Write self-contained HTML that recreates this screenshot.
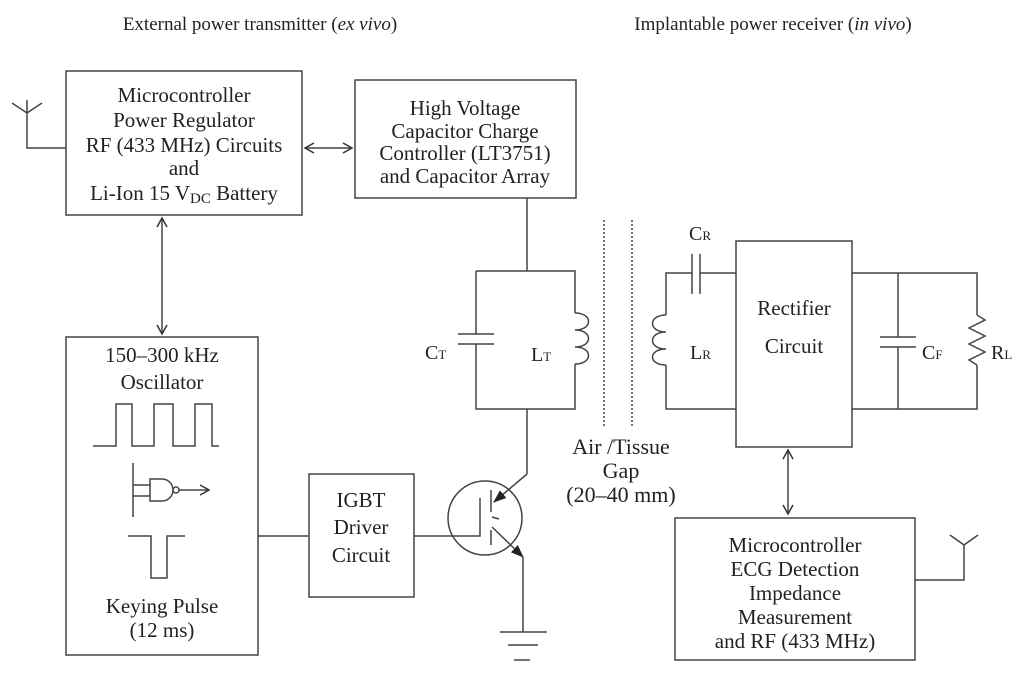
<!DOCTYPE html>
<html><head><meta charset="utf-8"><style>
html,body{margin:0;padding:0;background:#fff;}
svg{display:block;}
text{font-family:"Liberation Serif",serif;font-size:21px;fill:#222;}
</style></head><body>
<svg width="1024" height="675" viewBox="0 0 1024 675" xmlns="http://www.w3.org/2000/svg">
<defs>
<marker id="ah" markerWidth="12" markerHeight="12" refX="10" refY="6" orient="auto-start-reverse" markerUnits="userSpaceOnUse">
<path d="M1,1 L10,6 L1,11" fill="none" stroke="#333" stroke-width="1.5"/></marker>
<marker id="fa" markerWidth="14" markerHeight="12" refX="12" refY="6" orient="auto" markerUnits="userSpaceOnUse">
<path d="M0,1 L13,6 L0,11 z" fill="#222"/></marker>
</defs>
<g stroke="#444" stroke-width="1.5" fill="none">
<rect x="66" y="71" width="236" height="144"/>
<rect x="355" y="80" width="221" height="118"/>
<rect x="66" y="337" width="192" height="318"/>
<rect x="309" y="474" width="105" height="123"/>
<rect x="736" y="241" width="116" height="206"/>
<rect x="675" y="518" width="240" height="142"/>
<path d="M66,148 H27 V113 M27,113 L12,103 M27,113 L42,103 M27,113 V100"/>
<line x1="305" y1="148" x2="352" y2="148" marker-start="url(#ah)" marker-end="url(#ah)"/>
<line x1="162" y1="218" x2="162" y2="334" marker-start="url(#ah)" marker-end="url(#ah)"/>
<line x1="788" y1="450" x2="788" y2="514" marker-start="url(#ah)" marker-end="url(#ah)"/>
<path d="M527,198 V271 M476,271 H575 V313 M575,364 V409 H476 V344 M476,334 V271"/>
<path d="M458,334 H494 M458,344 H494"/>
<path d="M575,313 c18,0 18,17 0,17 c18,0 18,17 0,17 c18,0 18,17 0,17" />
<path d="M527,409 V474"/>
<circle cx="485" cy="518" r="37"/>
<line x1="527" y1="474" x2="494" y2="502" marker-end="url(#fa)"/>
<line x1="492" y1="527" x2="523" y2="557" marker-end="url(#fa)"/>
<path d="M491,490 V512 M491,530 V545 M492,517 L499,519"/>
<path d="M258,536 H309 M414,536 H480 V498"/>
<path d="M523,557 V632 M500,632 H547 M508,645 H538 M514,660 H530"/>
<path d="M604,220 V427 M632,220 V427" stroke-dasharray="2,2"/>
<path d="M736,273 H700 M692,273 H666 V315 M666,365 V409 H736"/>
<path d="M692,254 V294 M700,254 V294"/>
<path d="M666,315 c-18,0 -18,17 0,17 c-18,0 -18,17 0,17 c-18,0 -18,16 0,16"/>
<path d="M852,273 H977 V315 M977,365 V409 H852 M898,273 V337 M898,347 V409 M880,337 H916 M880,347 H916"/>
<path d="M977,315 L985,320 L969,328 L985,336 L969,344 L985,352 L969,360 L977,365"/>
<path d="M915,580 H964 V545 M964,545 L950,535 M964,545 L978,535"/>
<path d="M93,446 H116 V404 H132 V446 H154 V404 H173 V446 H195 V404 H212 V446 H219"/>
<path d="M133,463 V517 M133,485 H150 M133,496 H150 M150,479 H162 A11,11 0 0 1 162,501 H150 Z"/>
<circle cx="176" cy="490" r="3"/>
<line x1="179" y1="490" x2="209" y2="490" marker-end="url(#ah)"/>
<path d="M128,536 H151 V578 H167 V536 H185"/>
</g>
<g text-anchor="middle">
<text x="260" y="30" font-size="19" style="font-size:19px">External power transmitter (<tspan font-style="italic">ex vivo</tspan>)</text>
<text x="773" y="30" style="font-size:19px">Implantable power receiver (<tspan font-style="italic">in vivo</tspan>)</text>
<text x="184" y="102">Microcontroller</text>
<text x="184" y="127">Power Regulator</text>
<text x="184" y="152">RF (433 MHz) Circuits</text>
<text x="184" y="175">and</text>
<text x="184" y="200">Li-Ion 15 V<tspan style="font-size:15px" dy="3">DC</tspan><tspan dy="-3"> Battery</tspan></text>
<text x="465" y="115">High Voltage</text>
<text x="465" y="138">Capacitor Charge</text>
<text x="465" y="160">Controller (LT3751)</text>
<text x="465" y="183">and Capacitor Array</text>
<text x="162" y="362">150–300 kHz</text>
<text x="162" y="389">Oscillator</text>
<text x="162" y="613">Keying Pulse</text>
<text x="162" y="637">(12 ms)</text>
<text x="361" y="507">IGBT</text>
<text x="361" y="534">Driver</text>
<text x="361" y="562">Circuit</text>
<text x="621" y="454" style="font-size:22px">Air /Tissue</text>
<text x="621" y="478" style="font-size:22px">Gap</text>
<text x="621" y="502" style="font-size:22px">(20–40 mm)</text>
<text x="794" y="315">Rectifier</text>
<text x="794" y="353">Circuit</text>
<text x="795" y="552">Microcontroller</text>
<text x="795" y="576">ECG Detection</text>
<text x="795" y="600">Impedance</text>
<text x="795" y="624">Measurement</text>
<text x="795" y="648">and RF (433 MHz)</text>
</g>
<text x="425" y="359" style="font-size:20px">C<tspan style="font-size:13px">T</tspan></text>
<text x="531" y="361" style="font-size:20px">L<tspan style="font-size:13px">T</tspan></text>
<text x="689" y="240" style="font-size:20px">C<tspan style="font-size:13px">R</tspan></text>
<text x="690" y="359" style="font-size:20px">L<tspan style="font-size:13px">R</tspan></text>
<text x="922" y="359" style="font-size:20px">C<tspan style="font-size:13px">F</tspan></text>
<text x="991" y="359" style="font-size:20px">R<tspan style="font-size:13px">L</tspan></text>
</svg>
</body></html>
